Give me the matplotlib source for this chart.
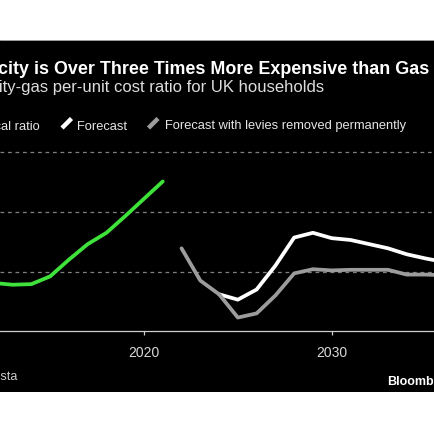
import matplotlib
matplotlib.use("Agg")
import matplotlib.pyplot as plt
from matplotlib.patches import Rectangle
from matplotlib.lines import Line2D

# ---- data ----
hist_years = [2012, 2013, 2014, 2015, 2016, 2017, 2018, 2019, 2020, 2021]
hist_ratio = [2.81, 2.78, 2.79, 2.92, 3.20, 3.46, 3.65, 3.93, 4.22, 4.51]

fc_years = [2024, 2025, 2026, 2027, 2028, 2029, 2030, 2031, 2032, 2033, 2034, 2035, 2036]
fc_ratio = [2.62, 2.53, 2.70, 3.10, 3.57, 3.65, 3.56, 3.53, 3.46, 3.39, 3.29, 3.22, 3.16]

nolevy_years = [2022, 2023, 2024, 2025, 2026, 2027, 2028, 2029, 2030, 2031, 2032, 2033, 2034, 2035, 2036]
nolevy_ratio = [3.39, 2.85, 2.62, 2.23, 2.30, 2.60, 2.97, 3.04, 3.02, 3.03, 3.03, 3.03, 2.95, 2.95, 2.94]

xticks = [2020, 2030]
grid_levels = [3, 4, 5]

title = "Electricity is Over Three Times More Expensive than Gas"
subtitle = "Electricity-gas per-unit cost ratio for UK households"
legend_labels = ["Historical ratio", "Forecast", "Forecast with levies removed permanently"]
source = "Source: Cornwall Insight, Statista"
brand = "Bloomberg"

GREEN = "#3fe23a"
WHITE = "#ffffff"
GRAY = "#9c9c9c"

plt.rcParams['font.family'] = ['Liberation Sans', 'DejaVu Sans']

W = H = 435.0
fig = plt.figure(figsize=(4.35, 4.35), dpi=100, facecolor="white")

def fx(x):
    return x / W

def fy(y):
    return 1 - y / H

# black panel
panel = Rectangle((0, fy(393)), 1, (393 - 41) / H, transform=fig.transFigure,
                  facecolor="black", edgecolor="none", zorder=-10)
fig.add_artist(panel)
fig.add_artist(Line2D([0, 1], [fy(41), fy(41)], transform=fig.transFigure,
                      color="#bbbbbb", lw=0.6, zorder=-9))

# axes
px_per_unit = 59.7
y0_px = 332.3
ymax = 5.25
ax = fig.add_axes([0, fy(y0_px), 1, (ymax - 2) * px_per_unit / H])
ax.set_zorder(5)
ax.patch.set_alpha(0)
px_per_year = (331.7 - 144.0) / 10.0
xl = 2020 - 144.0 / px_per_year
xr = 2020 + (W - 144.0) / px_per_year
ax.set_xlim(xl, xr)
ax.set_ylim(2, ymax)

for g in grid_levels:
    ax.axhline(g, color="#808080", lw=0.9, ls=(0, (3, 3)), zorder=1)

ax.plot(hist_years, hist_ratio, color=GREEN, lw=2.7, solid_capstyle="round",
        solid_joinstyle="round", zorder=3)
ax.plot(fc_years, fc_ratio, color=WHITE, lw=2.7, solid_capstyle="round",
        solid_joinstyle="round", zorder=3)
ax.plot(nolevy_years, nolevy_ratio, color=GRAY, lw=2.7, solid_capstyle="round",
        solid_joinstyle="round", zorder=4)

for s in ["top", "right", "left"]:
    ax.spines[s].set_visible(False)
ax.spines["bottom"].set_color("#cfcfcf")
ax.spines["bottom"].set_linewidth(0.9)
ax.set_yticks([])
ax.set_xticks(xticks)
ax.set_xticklabels([str(t) for t in xticks])
ax.tick_params(axis="x", colors="#cfcfcf", labelcolor="#d9d9d9", length=3, width=0.9,
               labelsize=10, pad=7)

# texts
fig.text(fx(429.5), fy(73.5), title, ha="right", va="baseline", color="white",
         fontsize=12.9, fontweight="bold", zorder=6)
fig.text(fx(324.5), fy(92), subtitle, ha="right", va="baseline", color="#dddddd",
         fontsize=12, zorder=6)

# legend
fig.text(fx(40), fy(129.5), legend_labels[0], ha="right", va="baseline", color="#e6e6e6",
         fontsize=9.3, zorder=6)
fig.add_artist(Line2D([fx(62), fx(71.5)], [fy(129), fy(119.5)], transform=fig.transFigure,
                      color=WHITE, lw=3.2, solid_capstyle="butt", zorder=6))
fig.text(fx(77), fy(129.5), legend_labels[1], ha="left", va="baseline", color="#e6e6e6",
         fontsize=9.3, zorder=6)
fig.add_artist(Line2D([fx(148.5), fx(158)], [fy(129), fy(119.5)], transform=fig.transFigure,
                      color=GRAY, lw=3.2, solid_capstyle="butt", zorder=6))
fig.text(fx(165), fy(129.5), legend_labels[2], ha="left", va="baseline", color="#e6e6e6",
         fontsize=9.3, zorder=6)

fig.text(fx(17), fy(380), source, ha="right", va="baseline", color="#cccccc", fontsize=9, zorder=6)
fig.text(fx(387.5), fy(385), brand, ha="left", va="baseline", color="white",
         fontsize=9, fontweight="bold", zorder=6)

fig.savefig("out.png", dpi=100, facecolor="white")
